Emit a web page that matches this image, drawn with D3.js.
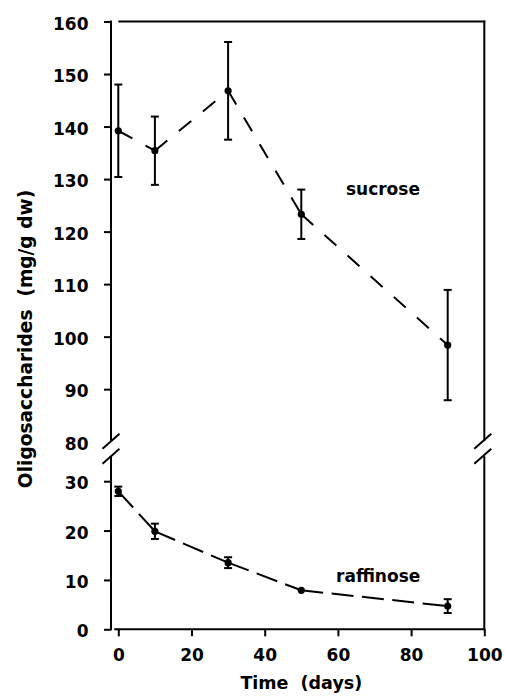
<!DOCTYPE html>
<html>
<head>
<meta charset="utf-8">
<script src="https://cdn.jsdelivr.net/npm/d3@7"></script>
<style>
  html, body { margin: 0; padding: 0; background: #fff; }
  svg { display: block; }
  text { font-family: "DejaVu Sans", sans-serif; font-weight: bold; fill: #000; }
</style>
</head>
<body>
<svg id="chart" width="505" height="696"></svg>
<script>
// ---- data ----
const days = [0, 10, 30, 50, 90];
const sucrose = [139.2, 135.4, 146.8, 123.3, 98.4];
const sucroseErr = [8.8, 6.5, 9.3, 4.7, 10.5];
const raffinose = [27.95, 19.85, 13.5, 7.9, 4.7];
const raffinoseErr = [0.95, 1.55, 1.1, 0, 1.4];
const xTicks = [0, 20, 40, 60, 80, 100];
const yUpperTicks = [80, 90, 100, 110, 120, 130, 140, 150, 160];
const yLowerTicks = [0, 10, 20, 30];
const xTitle = "Time  (days)";
const yTitle = "Oligosaccharides  (mg/g dw)";
const seriesLabels = ["sucrose", "raffinose"];

// ---- layout ----
const svg = d3.select("#chart");
const x = d3.scaleLinear().domain([0, 100]).range([118.3, 484.3]);
const yU = d3.scaleLinear().domain([80, 160]).range([441.7, 21.5]);
const yL = d3.scaleLinear().domain([0, 30]).range([629.3, 481.2]);
const axisX = 111;           // offset left y-axis
const sw = 2;

const gU = svg.append("g").attr("transform", `translate(${axisX},0)`)
  .call(d3.axisLeft(yU).tickValues(yUpperTicks).tickSize(7).tickPadding(15.5).tickFormat(d3.format("d")));
gU.select(".domain").remove();
gU.selectAll(".tick").filter(d => d === 80).select("line").remove();

const gL = svg.append("g").attr("transform", `translate(${axisX},0)`)
  .call(d3.axisLeft(yL).tickValues(yLowerTicks).tickSize(7).tickPadding(15.5).tickFormat(d3.format("d")));
gL.select(".domain").remove();

const gX = svg.append("g").attr("transform", `translate(0,${yL(0)})`)
  .call(d3.axisBottom(x).tickValues(xTicks).tickSize(7).tickPadding(12.3).tickFormat(d3.format("d")));
gX.select(".domain").remove();

[gU, gL, gX].forEach(g => {
  g.selectAll(".tick line").attr("stroke", "#000").attr("stroke-width", sw);
  g.selectAll(".tick text").style("font-size", "17px").attr("fill", "#000");
});
gU.selectAll(".tick text").attr("dy", "0.45em");
gL.selectAll(".tick text").attr("dy", "0.45em");

const frame = svg.append("g").attr("stroke", "#000").attr("stroke-width", sw).attr("fill", "none");
const breakTop = yU(80) - 0.5, breakBot = yU(80) + 14.5;
frame.append("line").attr("x1", axisX).attr("x2", axisX).attr("y1", yU(160) - 1).attr("y2", breakTop);
frame.append("line").attr("x1", axisX).attr("x2", axisX).attr("y1", breakBot).attr("y2", yL(0) + 1);
frame.append("line").attr("x1", x(100)).attr("x2", x(100)).attr("y1", yU(160) - 1).attr("y2", breakTop);
frame.append("line").attr("x1", x(100)).attr("x2", x(100)).attr("y1", breakBot).attr("y2", yL(0));
frame.append("line").attr("x1", x(0)).attr("x2", x(100) + 1).attr("y1", yU(160)).attr("y2", yU(160));
frame.append("line").attr("x1", x(0) - 4).attr("x2", x(100) + 1).attr("y1", yL(0)).attr("y2", yL(0));
[axisX, x(100) - 1.5].forEach(cx => {
  [breakTop, breakBot].forEach(cy => {
    frame.append("line").attr("x1", cx - 8.5).attr("y1", cy + 7.5).attr("x2", cx + 8.5).attr("y2", cy - 7.5);
  });
});

// ---- series ----
function drawSeries(vals, errs, y, dash) {
  const pts = days.map((d, i) => [x(d), y(vals[i])]);
  const line = d3.line();
  for (let i = 0; i < pts.length - 1; i++) {
    svg.append("path").attr("d", line([pts[i], pts[i + 1]]))
      .attr("fill", "none").attr("stroke", "#000").attr("stroke-width", sw)
      .attr("stroke-dasharray", dash);
  }
  const g = svg.append("g").attr("stroke", "#000").attr("stroke-width", sw);
  days.forEach((d, i) => {
    if (errs[i] > 0) {
      const cx = x(d), top = y(vals[i] + errs[i]), bot = y(vals[i] - errs[i]);
      g.append("line").attr("x1", cx).attr("x2", cx).attr("y1", top).attr("y2", bot);
      g.append("line").attr("x1", cx - 4).attr("x2", cx + 4).attr("y1", top).attr("y2", top);
      g.append("line").attr("x1", cx - 4).attr("x2", cx + 4).attr("y1", bot).attr("y2", bot);
    }
  });
  svg.append("g").selectAll("circle").data(pts).join("circle")
    .attr("cx", p => p[0]).attr("cy", p => p[1]).attr("r", 3.6).attr("fill", "#000");
}
drawSeries(sucrose, sucroseErr, yU, "16,15");
drawSeries(raffinose, raffinoseErr, yL, "22,8.5");

// ---- labels ----
svg.append("text").attr("x", x(72.3)).attr("y", yU(127)).attr("text-anchor", "middle")
  .style("font-size", "17px").text(seriesLabels[0]);
svg.append("text").attr("x", x(71)).attr("y", yL(9.64)).attr("text-anchor", "middle")
  .style("font-size", "17px").text(seriesLabels[1]);

svg.append("text").attr("x", (x(0) + x(100)) / 2).attr("y", 689).attr("text-anchor", "middle")
  .attr("xml:space", "preserve").style("font-size", "17.5px").text(xTitle);
svg.append("text").attr("transform", "translate(31.5,339) rotate(-90)").attr("text-anchor", "middle")
  .attr("xml:space", "preserve").style("font-size", "18.6px").text(yTitle);
</script>
</body>
</html>
